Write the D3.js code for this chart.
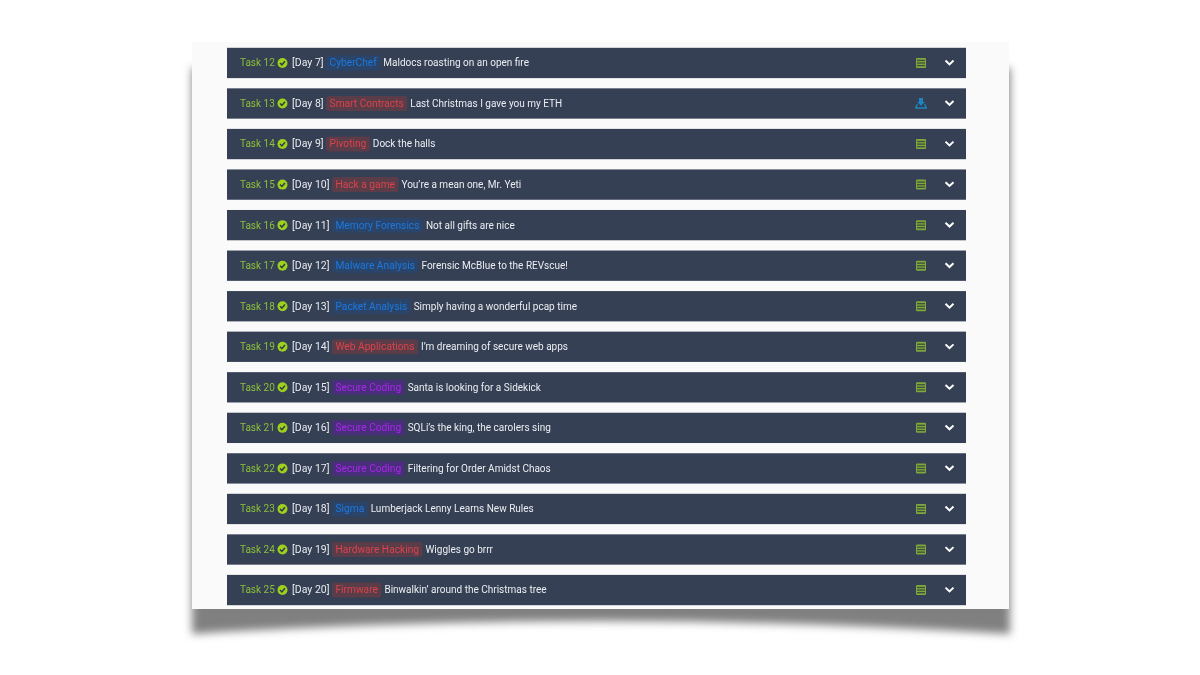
<!DOCTYPE html>
<meta charset="utf-8">
<title>Advent tasks</title>
<style>
html, body { margin: 0; background: #fff; }
svg { display: block; }
text { font-family: Roboto, sans-serif; font-size: 10px; }
text.day { font-size: 10.5px; }
text.tag { font-size: 10.2px; }
</style>
<body>
<svg></svg>
<script src="https://d3js.org/d3.v7.min.js"></script>
<script>
var taskNumbers = [12, 13, 14, 15, 16, 17, 18, 19, 20, 21, 22, 23, 24, 25];
var days = [7, 8, 9, 10, 11, 12, 13, 14, 15, 16, 17, 18, 19, 20];
var tags = ["CyberChef", "Smart Contracts", "Pivoting", "Hack a game", "Memory Forensics", "Malware Analysis", "Packet Analysis",
  "Web Applications", "Secure Coding", "Secure Coding", "Secure Coding", "Sigma", "Hardware Hacking", "Firmware"];
var tagKinds = ["blue", "red", "red", "red", "blue", "blue", "blue", "red", "purple", "purple", "purple", "blue", "red", "red"];
var titles = ["Maldocs roasting on an open fire", "Last Christmas I gave you my ETH", "Dock the halls", "You\u2019re a mean one, Mr. Yeti",
  "Not all gifts are nice", "Forensic McBlue to the REVscue!", "Simply having a wonderful pcap time", "I\u2019m dreaming of secure web apps",
  "Santa is looking for a Sidekick", "SQLi\u2019s the king, the carolers sing", "Filtering for Order Amidst Chaos",
  "Lumberjack Lenny Learns New Rules", "Wiggles go brrr", "Binwalkin\u2019 around the Christmas tree"];
var taskIcons = ["list", "download", "list", "list", "list", "list", "list", "list", "list", "list", "list", "list", "list", "list"];

var width = 1200, height = 675;
var svg = d3.select("svg").attr("width", width).attr("height", height);
var defs = svg.append("defs");
defs.append("filter").attr("id", "blur").attr("x", "-10%").attr("y", "-10%").attr("width", "120%").attr("height", "120%")
  .append("feGaussianBlur").attr("stdDeviation", 4);
defs.append("filter").attr("id", "soft").append("feGaussianBlur").attr("stdDeviation", 0.3);

// curled paper shadow behind the panel
svg.append("path")
  .attr("d", "M192,68 H1010 V634 Q600,608 192,634 Z")
  .attr("fill", "#808080")
  .attr("filter", "url(#blur)");
svg.append("rect").attr("x", 192).attr("y", 42).attr("width", 817).attr("height", 567).attr("fill", "#fafafa");

var rowScale = d3.scaleBand().domain(d3.range(taskNumbers.length)).range([47.8, 605.2]).paddingInner(0.2525).paddingOuter(0);
var tagText = d3.scaleOrdinal().domain(["blue", "red", "purple"]).range(["#1b78e2", "#dc4349", "#a926ea"]);
var tagFill = d3.scaleOrdinal().domain(["blue", "red", "purple"]).range(["#2b4569", "#5a3c4a", "#4a2f7c"]);

var page = svg.append("g").attr("filter", "url(#soft)");
var rows = page.selectAll("g.row").data(taskNumbers).enter().append("g")
  .attr("class", "row")
  .attr("transform", (d, i) => "translate(227," + rowScale(i) + ")");
rows.append("rect").attr("width", 739).attr("height", rowScale.bandwidth()).attr("fill", "#343f54");

var mid = rowScale.bandwidth() / 2;
rows.each(function (d, i) {
  var row = d3.select(this);
  row.append("text").attr("x", 13).attr("y", mid + 3.4).attr("fill", "#8cc13a").text("Task " + d);

  // check badge
  row.append("circle").attr("cx", 55.5).attr("cy", mid).attr("r", 5).attr("fill", "#9ed11f");
  row.append("path").attr("d", d3.line()([[53, mid], [54.9, mid + 1.9], [58, mid - 1.7]]))
    .attr("fill", "none").attr("stroke", "#2f3a4a").attr("stroke-width", 1.5);

  var day = row.append("text").attr("class", "day").attr("x", 65).attr("y", mid + 3.4).attr("fill", "#e8eaee").text("[Day " + days[i] + "]");
  var tagX = 65 + day.node().getComputedTextLength() + 2.5;
  var tagBox = row.append("rect").attr("x", tagX).attr("y", mid - 7.5).attr("height", 15).attr("rx", 2)
    .attr("fill", tagFill(tagKinds[i]));
  var tag = row.append("text").attr("class", "tag").attr("x", tagX + 3.5).attr("y", mid + 3.4)
    .attr("fill", tagText(tagKinds[i])).text(tags[i]);
  var tagW = tag.node().getComputedTextLength() + 7;
  tagBox.attr("width", tagW);
  row.append("text").attr("x", tagX + tagW + 3).attr("y", mid + 3.4).attr("fill", "#eceef1").text(titles[i]);

  // right hand icons
  var icon = row.append("g").attr("transform", "translate(694," + mid + ")");
  if (taskIcons[i] == "list") {
    icon.append("rect").attr("x", -5).attr("y", -5).attr("width", 10).attr("height", 10).attr("rx", 1)
      .attr("fill", "#7fa83c");
    icon.selectAll("rect.slot").data([-3.2, -0.6, 2]).enter().append("rect").attr("class", "slot")
      .attr("x", -4).attr("width", 8).attr("y", v => v).attr("height", 1.3).attr("fill", "#3f4f40");
  } else {
    icon.append("path").attr("d", "M-2,-5.5 H2 V-1.5 H4 L0,2.2 L-4,-1.5 H-2 Z").attr("fill", "#1a86c0");
    icon.append("path").attr("d", "M-5.6,5 L-3.6,0.8 M5.6,5 L3.6,0.8 M-5.6,4.6 H5.6").attr("fill", "none")
      .attr("stroke", "#1a86c0").attr("stroke-width", 1.5);
  }
  row.append("path").attr("d", d3.line()([[718.5, mid - 2.4], [722.5, mid + 1.4], [726.5, mid - 2.4]]))
    .attr("fill", "none").attr("stroke", "#fff").attr("stroke-width", 2);
});
</script>
</body>
